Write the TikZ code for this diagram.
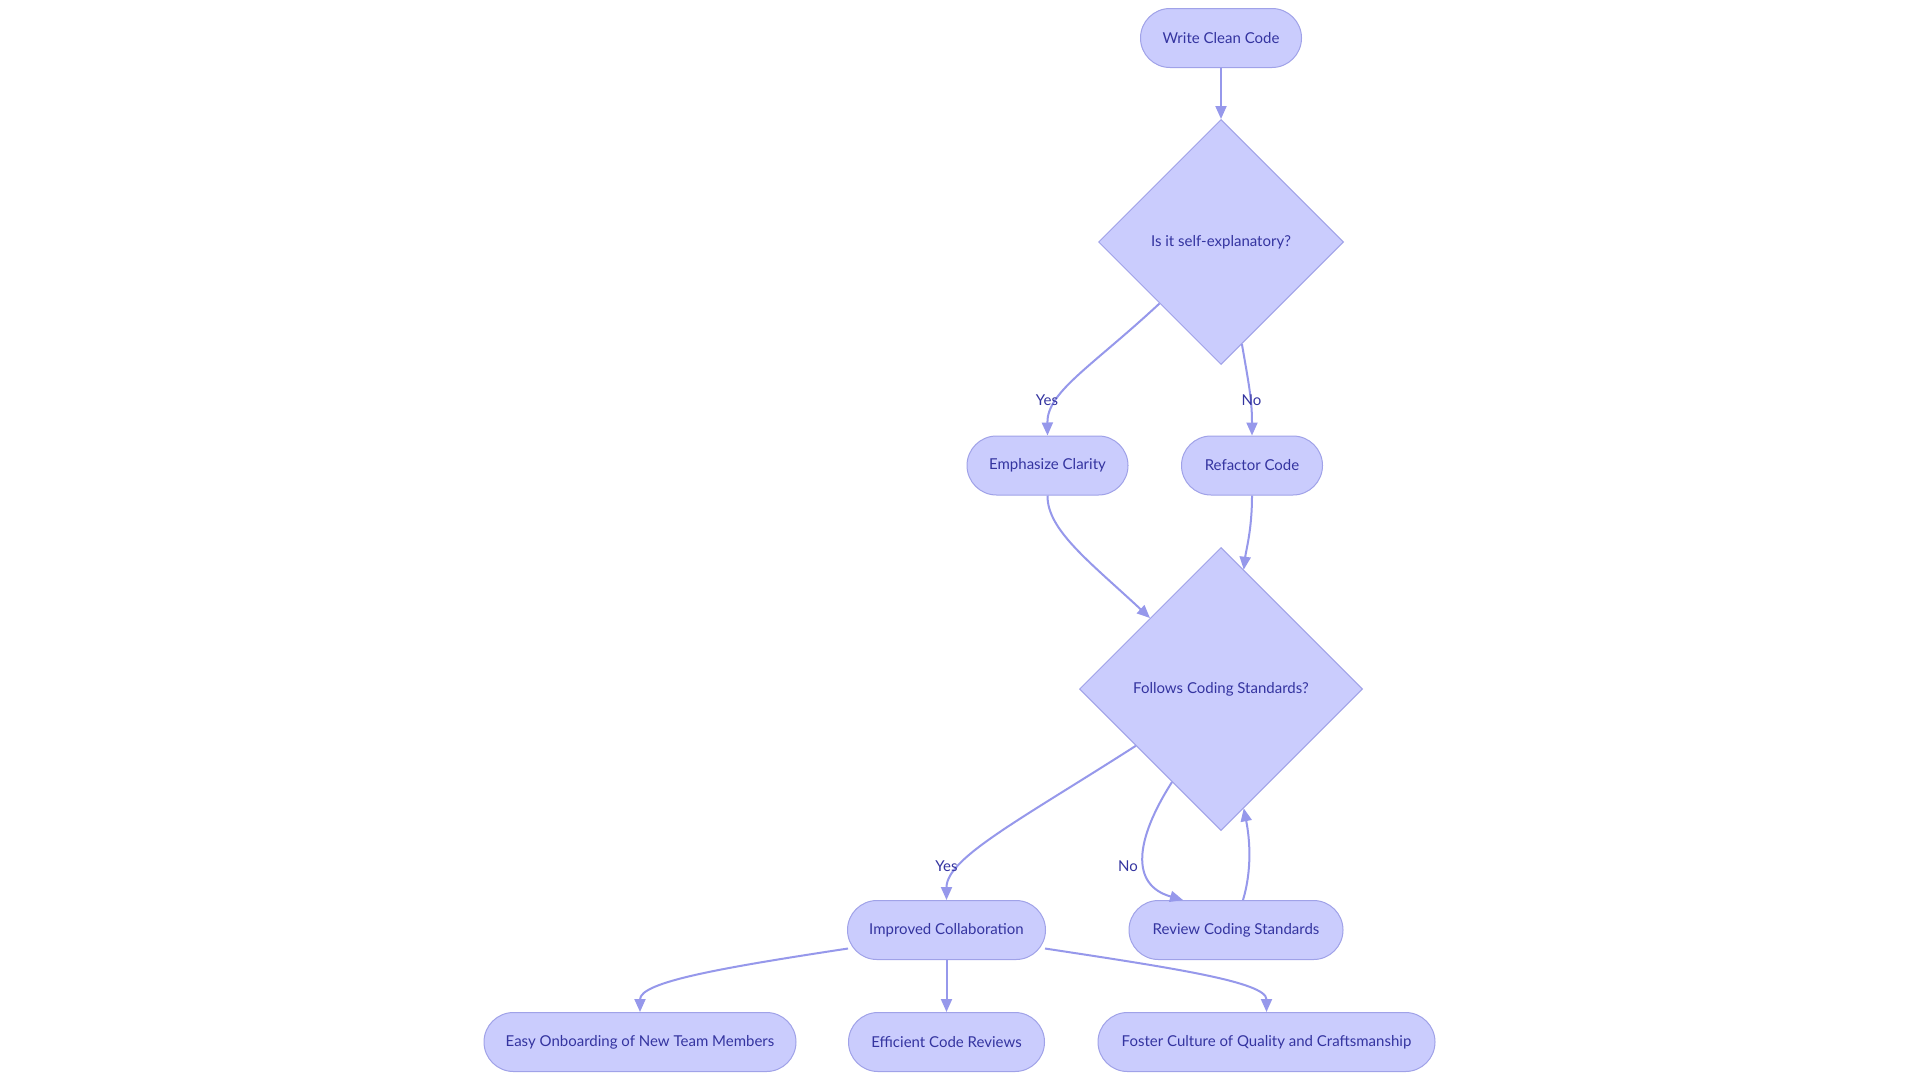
\documentclass[tikz,border=0pt]{standalone}
\usepackage{fontspec}
\setmainfont{Lato}
\usetikzlibrary{shapes.geometric,arrows.meta,calc}
\definecolor{nfill}{RGB}{202,204,253}
\definecolor{nstroke}{RGB}{160,162,232}
\definecolor{edgec}{RGB}{150,152,235}
\definecolor{txt}{RGB}{52,52,160}
\tikzset{
  pill/.style={draw=nstroke, fill=nfill, line width=1pt, rounded corners=29.5pt,
    minimum height=59pt, inner sep=0pt, text=txt, font=\fontsize{15}{18}\selectfont},
  dia/.style={draw=nstroke, fill=nfill, line width=1pt, diamond, aspect=1, inner sep=0pt,
    text=txt, font=\fontsize{15}{18}\selectfont},
  conn/.style={draw=edgec, line width=2pt, -{Triangle[length=13pt,width=11pt]}},
  lbl/.style={text=txt, font=\fontsize{15}{18}\selectfont, inner sep=1pt}
}
\begin{document}
\begin{tikzpicture}[x=1pt,y=-1pt]
\useasboundingbox (0,0) rectangle (1920,1080);
\fill[white] (0,0) rectangle (1920,1080);

\node[pill, minimum width=161pt] (wcc) at (1221,38) {Write Clean Code};
\node[dia, minimum size=245pt] (d1) at (1221,242) {Is it self-explanatory?};
\node[pill, minimum width=161pt] (emph) at (1047.5,465.5) {Emphasize Clarity};
\node[pill, minimum width=141pt] (refac) at (1252,465.5) {Refactor Code};
\node[dia, minimum size=283pt] (d2) at (1221,689) {Follows Coding Standards?};
\node[pill, minimum width=198pt] (impr) at (946.5,930) {Improved Collaboration};
\node[pill, minimum width=214pt] (rev) at (1236,930) {Review Coding Standards};
\node[pill, minimum width=312pt] (easy) at (640,1042) {Easy Onboarding of New Team Members};
\node[pill, minimum width=196pt] (eff) at (946.5,1042) {Efficient Code Reviews};
\node[pill, minimum width=337pt] (fost) at (1266.5,1042) {Foster Culture of Quality and Craftsmanship};

\coordinate (d1r) at ($(d1.east)!0.83!(d1.south)$);
\coordinate (d2nr) at ($(d2.north)!0.16!(d2.east)$);
\coordinate (d2y) at ($(d2.west)!0.4!(d2.south)$);
\coordinate (d2n) at ($(d2.west)!0.655!(d2.south)$);
\coordinate (d2back) at ($(d2.south)!0.16!(d2.east)$);
\coordinate (revin) at ([xshift=-53pt]rev.north);
\coordinate (revout) at ([xshift=7pt]rev.north);
\coordinate (imprl) at ([xshift=1pt,yshift=11.5pt]impr.south west);
\coordinate (imprr) at ([xshift=-1pt,yshift=11.5pt]impr.south east);

\draw[conn] (wcc.south) -- (d1.north);
\draw[conn] (d1.south west) .. controls (1090,368) and (1047,392) .. (emph.north);
\draw[conn] (d1r) .. controls (1249,385) and (1252,400) .. (refac.north);
\draw[conn] (emph.south) .. controls (1047,530) and (1090,562) .. (d2.north west);
\draw[conn] (refac.south) .. controls (1252,530) and (1246,550) .. (d2nr);
\draw[conn] (d2y) .. controls (1020,820) and (946.5,858) .. (impr.north);
\draw[conn] (d2n) .. controls (1135,840) and (1130,885) .. (revin);
\draw[conn] (revout) .. controls (1252,870) and (1250,840) .. (d2back);
\draw[conn] (imprl) .. controls (720,968) and (640,982) .. (easy.north);
\draw[conn] (impr.south) -- (eff.north);
\draw[conn] (imprr) .. controls (1173,968) and (1266.5,982) .. (fost.north);

\node[lbl] (ly1) at (1047,400) {Yes};
\node[lbl] (ln1) at (1251.5,400) {No};
\node[lbl] (ly2) at (946.5,866) {Yes};
\node[lbl] (ln2) at (1128,866) {No};
\end{tikzpicture}
\end{document}
